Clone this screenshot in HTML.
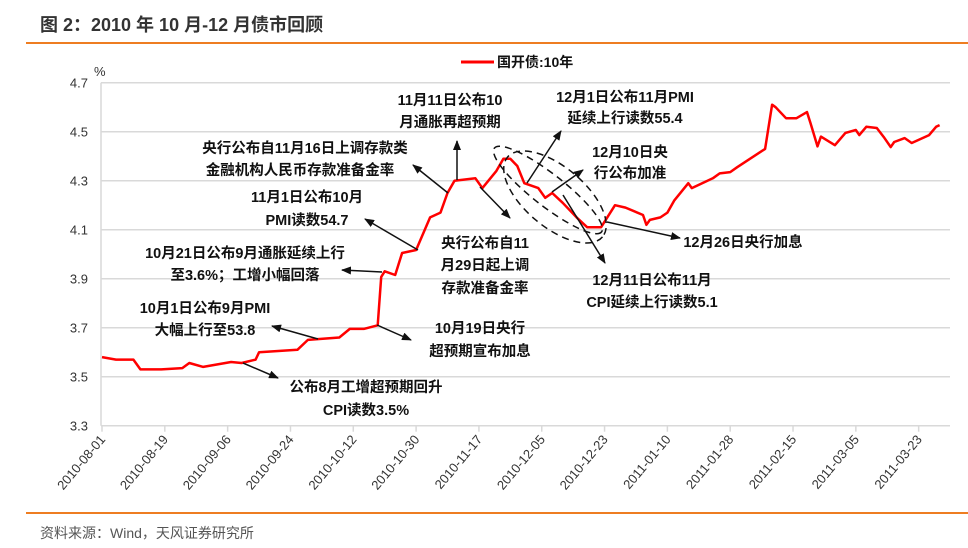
<!DOCTYPE html>
<html><head><meta charset="utf-8"><style>
html,body{margin:0;padding:0;background:#fff;}
svg{display:block;font-family:"Liberation Sans","Noto Sans CJK SC",sans-serif;}
.ann{font-size:14.5px;font-weight:bold;fill:#111;text-anchor:middle;}
.tk{font-size:13px;fill:#333;}
</style></head><body>
<svg id="chart" width="968" height="548" viewBox="0 0 968 548">
<text x="40" y="31" font-size="18" font-weight="bold" fill="#333">图 2：2010 年 10 月-12 月债市回顾</text>
<line x1="26" y1="43" x2="968" y2="43" stroke="#EE7D21" stroke-width="2"/>
<g>
<line x1="461" y1="62" x2="494" y2="62" stroke="#f00" stroke-width="3"/>
<text x="497" y="67" font-size="14" font-weight="bold" fill="#111">国开债:10年</text>
</g>
<text x="94" y="76" font-size="13" fill="#333">%</text>
<g id="grid"></g>
<g id="xaxis"></g>
<g id="series"></g>
<g stroke="#111" stroke-width="1.5" fill="none">
<ellipse cx="548" cy="190" rx="68" ry="16" transform="rotate(38 548 190)" stroke-dasharray="7,5"/>
<ellipse cx="555" cy="197" rx="62" ry="30" transform="rotate(40 555 197)" stroke-dasharray="7,5"/>
</g>
<defs><marker id="ah" markerWidth="10" markerHeight="8" refX="9" refY="4" orient="auto" markerUnits="userSpaceOnUse"><path d="M0,0 L10,4 L0,8z" fill="#111"/></marker></defs>
<g stroke="#111" stroke-width="1.5">
<line x1="243" y1="363" x2="278" y2="378" marker-end="url(#ah)"/>
<line x1="318" y1="339" x2="272" y2="326" marker-end="url(#ah)"/>
<line x1="377" y1="325" x2="411" y2="340" marker-end="url(#ah)"/>
<line x1="382" y1="272" x2="342" y2="270" marker-end="url(#ah)"/>
<line x1="418" y1="250" x2="365" y2="219" marker-end="url(#ah)"/>
<line x1="448" y1="193" x2="413" y2="165" marker-end="url(#ah)"/>
<line x1="457" y1="180" x2="457" y2="141" marker-end="url(#ah)"/>
<line x1="480" y1="187" x2="510" y2="218" marker-end="url(#ah)"/>
<line x1="527" y1="183" x2="561" y2="131" marker-end="url(#ah)"/>
<line x1="552" y1="192" x2="583" y2="170" marker-end="url(#ah)"/>
<line x1="563" y1="195" x2="605" y2="263" marker-end="url(#ah)"/>
<line x1="607" y1="222" x2="680" y2="238" marker-end="url(#ah)"/>
</g>
<g>
<text class="ann" x="450" y="105">11月11日公布10</text>
<text class="ann" x="450" y="127">月通胀再超预期</text>
<text class="ann" x="625" y="102">12月1日公布11月PMI</text>
<text class="ann" x="625" y="123">延续上行读数55.4</text>
<text class="ann" x="305" y="153">央行公布自11月16日上调存款类</text>
<text class="ann" x="300" y="175">金融机构人民币存款准备金率</text>
<text class="ann" x="630" y="157">12月10日央</text>
<text class="ann" x="630" y="178">行公布加准</text>
<text class="ann" x="307" y="202">11月1日公布10月</text>
<text class="ann" x="307" y="225">PMI读数54.7</text>
<text class="ann" x="485" y="248">央行公布自11</text>
<text class="ann" x="485" y="270">月29日起上调</text>
<text class="ann" x="485" y="293">存款准备金率</text>
<text class="ann" x="743" y="247">12月26日央行加息</text>
<text class="ann" x="245" y="258">10月21日公布9月通胀延续上行</text>
<text class="ann" x="245" y="280">至3.6%；工增小幅回落</text>
<text class="ann" x="652" y="285">12月11日公布11月</text>
<text class="ann" x="652" y="307">CPI延续上行读数5.1</text>
<text class="ann" x="205" y="313">10月1日公布9月PMI</text>
<text class="ann" x="205" y="335">大幅上行至53.8</text>
<text class="ann" x="480" y="333">10月19日央行</text>
<text class="ann" x="480" y="356">超预期宣布加息</text>
<text class="ann" x="366" y="392">公布8月工增超预期回升</text>
<text class="ann" x="366" y="415">CPI读数3.5%</text>
</g>
<line x1="26" y1="513" x2="968" y2="513" stroke="#EE7D21" stroke-width="2"/>
<text x="40" y="538" font-size="14" fill="#555">资料来源：Wind，天风证券研究所</text>
</svg>
<script>
const yTicks = [3.3, 3.5, 3.7, 3.9, 4.1, 4.3, 4.5, 4.7];
const xTickLabels = ["2010-08-01","2010-08-19","2010-09-06","2010-09-24","2010-10-12","2010-10-30","2010-11-17","2010-12-05","2010-12-23","2011-01-10","2011-01-28","2011-02-15","2011-03-05","2011-03-23"];
const days = [0,4,9,11,17,23,25,29,37,40,44,45,56,59,68,71,75,79,80,81,84,86,90,94,97,99,101,107,109,113,115,117,119,121,125,127,129,132,136,139,143,147,150,155,156,157,160,162,164,168,169,175,177,180,182,190,192,193,196,199,202,203,205,206,210,213,216,217,219,222,224,226,227,230,232,237,239,240];
const values = [3.58,3.57,3.57,3.53,3.53,3.535,3.556,3.54,3.56,3.556,3.57,3.60,3.61,3.65,3.66,3.695,3.695,3.71,3.907,3.93,3.915,4.005,4.017,4.15,4.17,4.25,4.30,4.31,4.27,4.34,4.39,4.39,4.36,4.29,4.27,4.23,4.25,4.21,4.15,4.11,4.11,4.20,4.19,4.16,4.12,4.14,4.15,4.17,4.22,4.29,4.27,4.31,4.33,4.335,4.355,4.43,4.61,4.60,4.555,4.555,4.58,4.535,4.44,4.48,4.445,4.495,4.507,4.486,4.52,4.515,4.478,4.437,4.458,4.474,4.454,4.486,4.52,4.527];
const NS = "http://www.w3.org/2000/svg";
const x0 = 102, pxPerDay = 3.49, yTop = 82.7, yBot = 425.7, vMin = 3.3, vMax = 4.7, xRight = 950;
function xScale(d){ return x0 + d * pxPerDay; }
function yScale(v){ return yBot - (v - vMin) / (vMax - vMin) * (yBot - yTop); }
const grid = document.getElementById('grid');
yTicks.forEach(function(t){
  const y = yScale(t);
  const l = document.createElementNS(NS,'line');
  l.setAttribute('x1', 101); l.setAttribute('x2', xRight); l.setAttribute('y1', y); l.setAttribute('y2', y);
  l.setAttribute('stroke', '#d9d9d9'); l.setAttribute('stroke-width', 1.5);
  
  
  grid.appendChild(l);
  const tx = document.createElementNS(NS,'text');
  tx.setAttribute('x', 88); tx.setAttribute('y', y + 5); tx.setAttribute('text-anchor','end');
  tx.setAttribute('class','tk'); tx.textContent = t.toFixed(1);
  
  
  grid.appendChild(tx);
});
const ax = document.createElementNS(NS,'line');
ax.setAttribute('x1',101); ax.setAttribute('x2',101); ax.setAttribute('y1',yTop); ax.setAttribute('y2',yBot);
ax.setAttribute('stroke','#d9d9d9'); ax.setAttribute('stroke-width',1.5);


grid.appendChild(ax);
const xaxis = document.getElementById('xaxis');
xTickLabels.forEach(function(lab, i){
  const x = xScale(i * 18);
  const tk = document.createElementNS(NS,'line');
  tk.setAttribute('x1',x); tk.setAttribute('x2',x); tk.setAttribute('y1',yBot); tk.setAttribute('y2',yBot+6);
  tk.setAttribute('stroke','#d9d9d9'); tk.setAttribute('stroke-width',1.5);
  
  
  xaxis.appendChild(tk);
  const tx = document.createElementNS(NS,'text');
  tx.setAttribute('x', x + 4); tx.setAttribute('y', yBot + 14);
  tx.setAttribute('text-anchor','end'); tx.setAttribute('class','tk');
  tx.setAttribute('transform','rotate(-50 '+(x+4)+' '+(yBot+14)+')');
  tx.textContent = lab;
  
  
  xaxis.appendChild(tx);
});
let d = '';
days.forEach(function(dy, i){ d += (i ? 'L' : 'M') + xScale(dy).toFixed(1) + ',' + yScale(values[i]).toFixed(1); });
const p = document.createElementNS(NS,'path');
p.setAttribute('d', d); p.setAttribute('fill','none'); p.setAttribute('stroke','#f00'); p.setAttribute('stroke-width',2.5);
p.setAttribute('stroke-linejoin','round');


document.getElementById('series').appendChild(p);
</script>
</body></html>
